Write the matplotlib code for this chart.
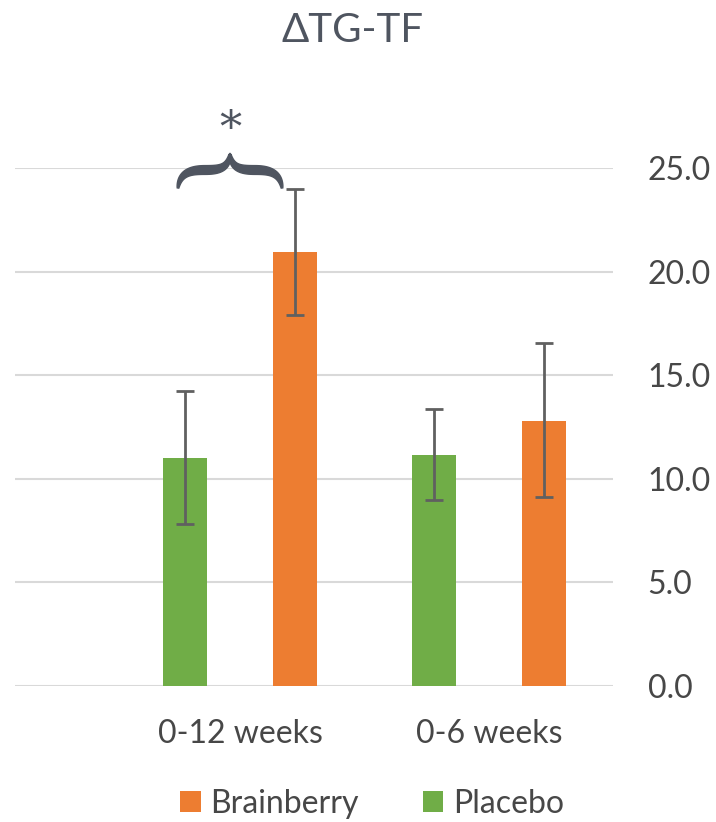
import numpy as np
import matplotlib
matplotlib.use("Agg")
import matplotlib.pyplot as plt
from matplotlib.patches import Polygon

plt.rcParams["font.family"] = ["Lato", "DejaVu Sans"]

# data
periods = ["0-12 weeks", "0-6 weeks"]
placebo = [11.0, 11.15]
placebo_lo = [3.2, 2.15]
placebo_hi = [3.25, 2.2]
brainberry = [20.95, 12.8]
brainberry_lo = [3.05, 3.7]
brainberry_hi = [3.05, 3.75]
yticks = [0, 5, 10, 15, 20, 25]

GREEN = "#70ad47"
ORANGE = "#ed7d31"
TXT = "#474747"
ERR = "#606060"
DARK = "#4f5560"

W, H = 716, 822
fig = plt.figure(figsize=(W / 100, H / 100), dpi=100)
ax = fig.add_axes([15 / W, 1 - 686 / H, (613 - 15) / W, (686 - 168) / H])

x = np.arange(len(periods))
off = 0.222
bw = 0.175
ax.bar(x - off, placebo, bw, color=GREEN, zorder=3, label="Placebo")
ax.bar(x + off, brainberry, bw, color=ORANGE, zorder=3, label="Brainberry")
ax.errorbar(x - off, placebo, yerr=[placebo_lo, placebo_hi], fmt="none",
            ecolor=ERR, elinewidth=2, capsize=6.5, capthick=2, zorder=4)
ax.errorbar(x + off, brainberry, yerr=[brainberry_lo, brainberry_hi], fmt="none",
            ecolor=ERR, elinewidth=2, capsize=6.5, capthick=2, zorder=4)

# category spacing ~249 px, first group centred at x=240 px
ax.set_xlim((15 - 240) / 249, (613 - 240) / 249)
ax.set_ylim(0, 25)
ax.set_yticks(yticks)
ax.set_yticklabels([f"{v:.1f}" for v in yticks])
ax.yaxis.tick_right()
ax.set_xticks(x)
ax.set_xticklabels(periods)
ax.tick_params(axis="both", length=0, labelsize=23, colors=TXT)
ax.tick_params(axis="y", pad=25)
ax.tick_params(axis="x", pad=24)
ax.grid(axis="y", color="#d9d9d9", linewidth=1.5, zorder=0)
for s in ax.spines.values():
    s.set_visible(False)

fig.text(353 / W, 1 - 31 / H, "\u0394TG-TF", fontsize=29, color=DARK,
         ha="center", va="center")

# curly brace + asterisk above the first pair (drawn in pixel space)
def px_to_data(px, py):
    return (px - 240) / 249, (686 - py) / 20.72

def bezier(p0, p1, p2, p3, n=40):
    t = np.linspace(0, 1, n)[:, None]
    return ((1 - t) ** 3 * p0 + 3 * (1 - t) ** 2 * t * p1
            + 3 * (1 - t) * t ** 2 * p2 + t ** 3 * p3)

left = np.vstack([
    bezier(np.array([178, 188]), np.array([180, 172]), np.array([192, 170]), np.array([205, 170])),
    bezier(np.array([205, 170]), np.array([220, 170]), np.array([228, 168]), np.array([230, 154]))[1:],
])
right = left[::-1].copy()
right[:, 0] = 460 - right[:, 0]
center = np.vstack([left, right[1:]])
half = len(left)
s = np.concatenate([np.linspace(0, 1, half), np.linspace(1, 0, half)[1:]])
thick = 0.8 + 3.6 * np.sin(np.pi * s) ** 0.8
d = np.gradient(center, axis=0)
nrm = np.stack([-d[:, 1], d[:, 0]], axis=1)
nrm /= np.linalg.norm(nrm, axis=1)[:, None]
upper = center + nrm * thick[:, None]
lower = center - nrm * thick[:, None]
outline = np.vstack([upper, lower[::-1]])
pts = np.array([px_to_data(px, py) for px, py in outline])
ax.add_patch(Polygon(pts, closed=True, color=DARK, clip_on=False, zorder=5))
sx, sy = px_to_data(230, 130)
ax.text(sx, sy, "*", fontsize=32, color=DARK, ha="center", va="center",
        family="DejaVu Serif", clip_on=False)

handles, labels = ax.get_legend_handles_labels()
fig.legend(handles[::-1], labels[::-1], loc="center", bbox_to_anchor=(372 / W, 1 - 804 / H),
           ncol=2, frameon=False, fontsize=23, labelcolor=TXT, handlelength=0.65,
           handleheight=0.65, handletextpad=0.3, columnspacing=2.0)

fig.savefig("out.png", dpi=100)
